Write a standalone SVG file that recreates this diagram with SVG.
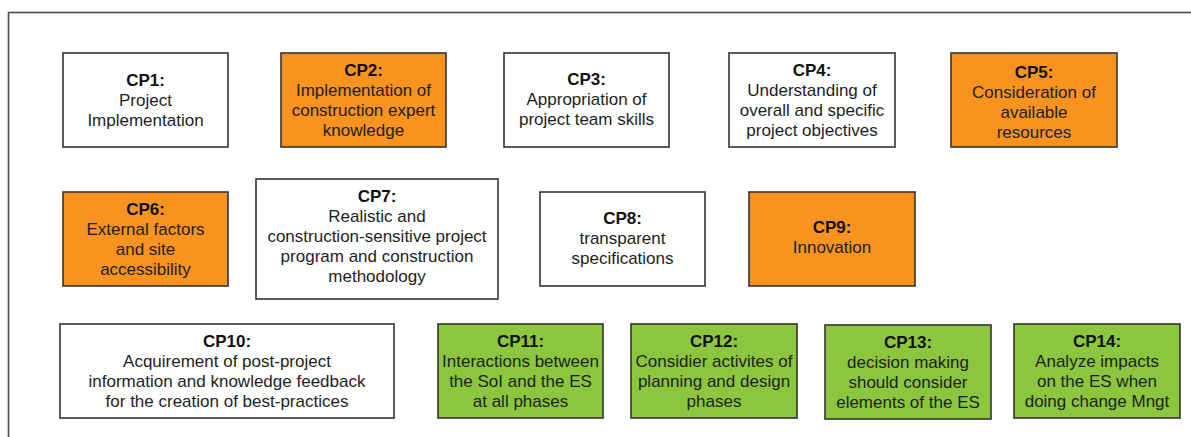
<svg xmlns="http://www.w3.org/2000/svg" width="1191" height="437" viewBox="0 0 1191 437">
<style>
text{font-family:"Liberation Sans",Arial,sans-serif;font-size:17px;fill:#1e1e1e;text-anchor:middle}
.h{font-weight:bold;fill:#111}
.b{stroke:#333;stroke-width:1.6}
.w{fill:#fff}
.o{fill:#F7931E}
.g{fill:#8CC63F}
</style>
<rect x="0" y="0" width="1191" height="437" fill="#fff"/>
<rect id="frame" x="8.5" y="12.5" width="1200" height="440" fill="none" stroke="#4a4a4a" stroke-width="1.6"/>
<g id="connectors"/>
<g id="cp1"><rect class="b w" x="63" y="53" width="165" height="94"/>
<text x="145.5" y="86" class="h">CP1:</text><text x="145.5" y="106">Project</text><text x="145.5" y="126">Implementation</text></g>
<g id="cp2"><rect class="b o" x="281" y="53" width="165" height="94"/>
<text x="363.5" y="76" class="h">CP2:</text><text x="363.5" y="96">Implementation of</text><text x="363.5" y="116">construction expert</text><text x="363.5" y="136">knowledge</text></g>
<g id="cp3"><rect class="b w" x="504" y="53" width="165" height="94"/>
<text x="586.5" y="85" class="h">CP3:</text><text x="586.5" y="105">Appropriation of</text><text x="586.5" y="125">project team skills</text></g>
<g id="cp4"><rect class="b w" x="729" y="53" width="166" height="94"/>
<text x="812" y="76" class="h">CP4:</text><text x="812" y="96">Understanding of</text><text x="812" y="116">overall and specific</text><text x="812" y="136">project objectives</text></g>
<g id="cp5"><rect class="b o" x="951" y="53" width="166" height="94"/>
<text x="1034" y="78" class="h">CP5:</text><text x="1034" y="98">Consideration of</text><text x="1034" y="118">available</text><text x="1034" y="138">resources</text></g>
<g id="cp6"><rect class="b o" x="63" y="192" width="165" height="94"/>
<text x="145.5" y="215" class="h">CP6:</text><text x="145.5" y="235">External factors</text><text x="145.5" y="255">and site</text><text x="145.5" y="275">accessibility</text></g>
<g id="cp7"><rect class="b w" x="256" y="179" width="242" height="120"/>
<text x="377" y="202" class="h">CP7:</text><text x="377" y="222">Realistic and</text><text x="377" y="242">construction-sensitive project</text><text x="377" y="262">program and construction</text><text x="377" y="282">methodology</text></g>
<g id="cp8"><rect class="b w" x="540" y="192" width="165" height="94"/>
<text x="622.5" y="224" class="h">CP8:</text><text x="622.5" y="244">transparent</text><text x="622.5" y="264">specifications</text></g>
<g id="cp9"><rect class="b o" x="749" y="192" width="166" height="94"/>
<text x="832" y="233" class="h">CP9:</text><text x="832" y="253">Innovation</text></g>
<g id="cp10"><rect class="b w" x="60" y="324" width="334" height="94"/>
<text x="227" y="347" class="h">CP10:</text><text x="227" y="367">Acquirement of post-project</text><text x="227" y="387">information and knowledge feedback</text><text x="227" y="407">for the creation of best-practices</text></g>
<g id="cp11"><rect class="b g" x="438" y="324" width="165" height="94"/>
<text x="520.5" y="347" class="h">CP11:</text><text x="520.5" y="367">Interactions between</text><text x="520.5" y="387">the SoI and the ES</text><text x="520.5" y="407">at all phases</text></g>
<g id="cp12"><rect class="b g" x="631" y="324" width="166" height="94"/>
<text x="714" y="347" class="h">CP12:</text><text x="714" y="367">Considier activites of</text><text x="714" y="387">planning and design</text><text x="714" y="407">phases</text></g>
<g id="cp13"><rect class="b g" x="825" y="325" width="166" height="94"/>
<text x="908" y="348" class="h">CP13:</text><text x="908" y="368">decision making</text><text x="908" y="388">should consider</text><text x="908" y="408">elements of the ES</text></g>
<g id="cp14"><rect class="b g" x="1014" y="324" width="166" height="94"/>
<text x="1097" y="347" class="h">CP14:</text><text x="1097" y="367">Analyze impacts</text><text x="1097" y="387">on the ES when</text><text x="1097" y="407">doing change Mngt</text></g>
</svg>
